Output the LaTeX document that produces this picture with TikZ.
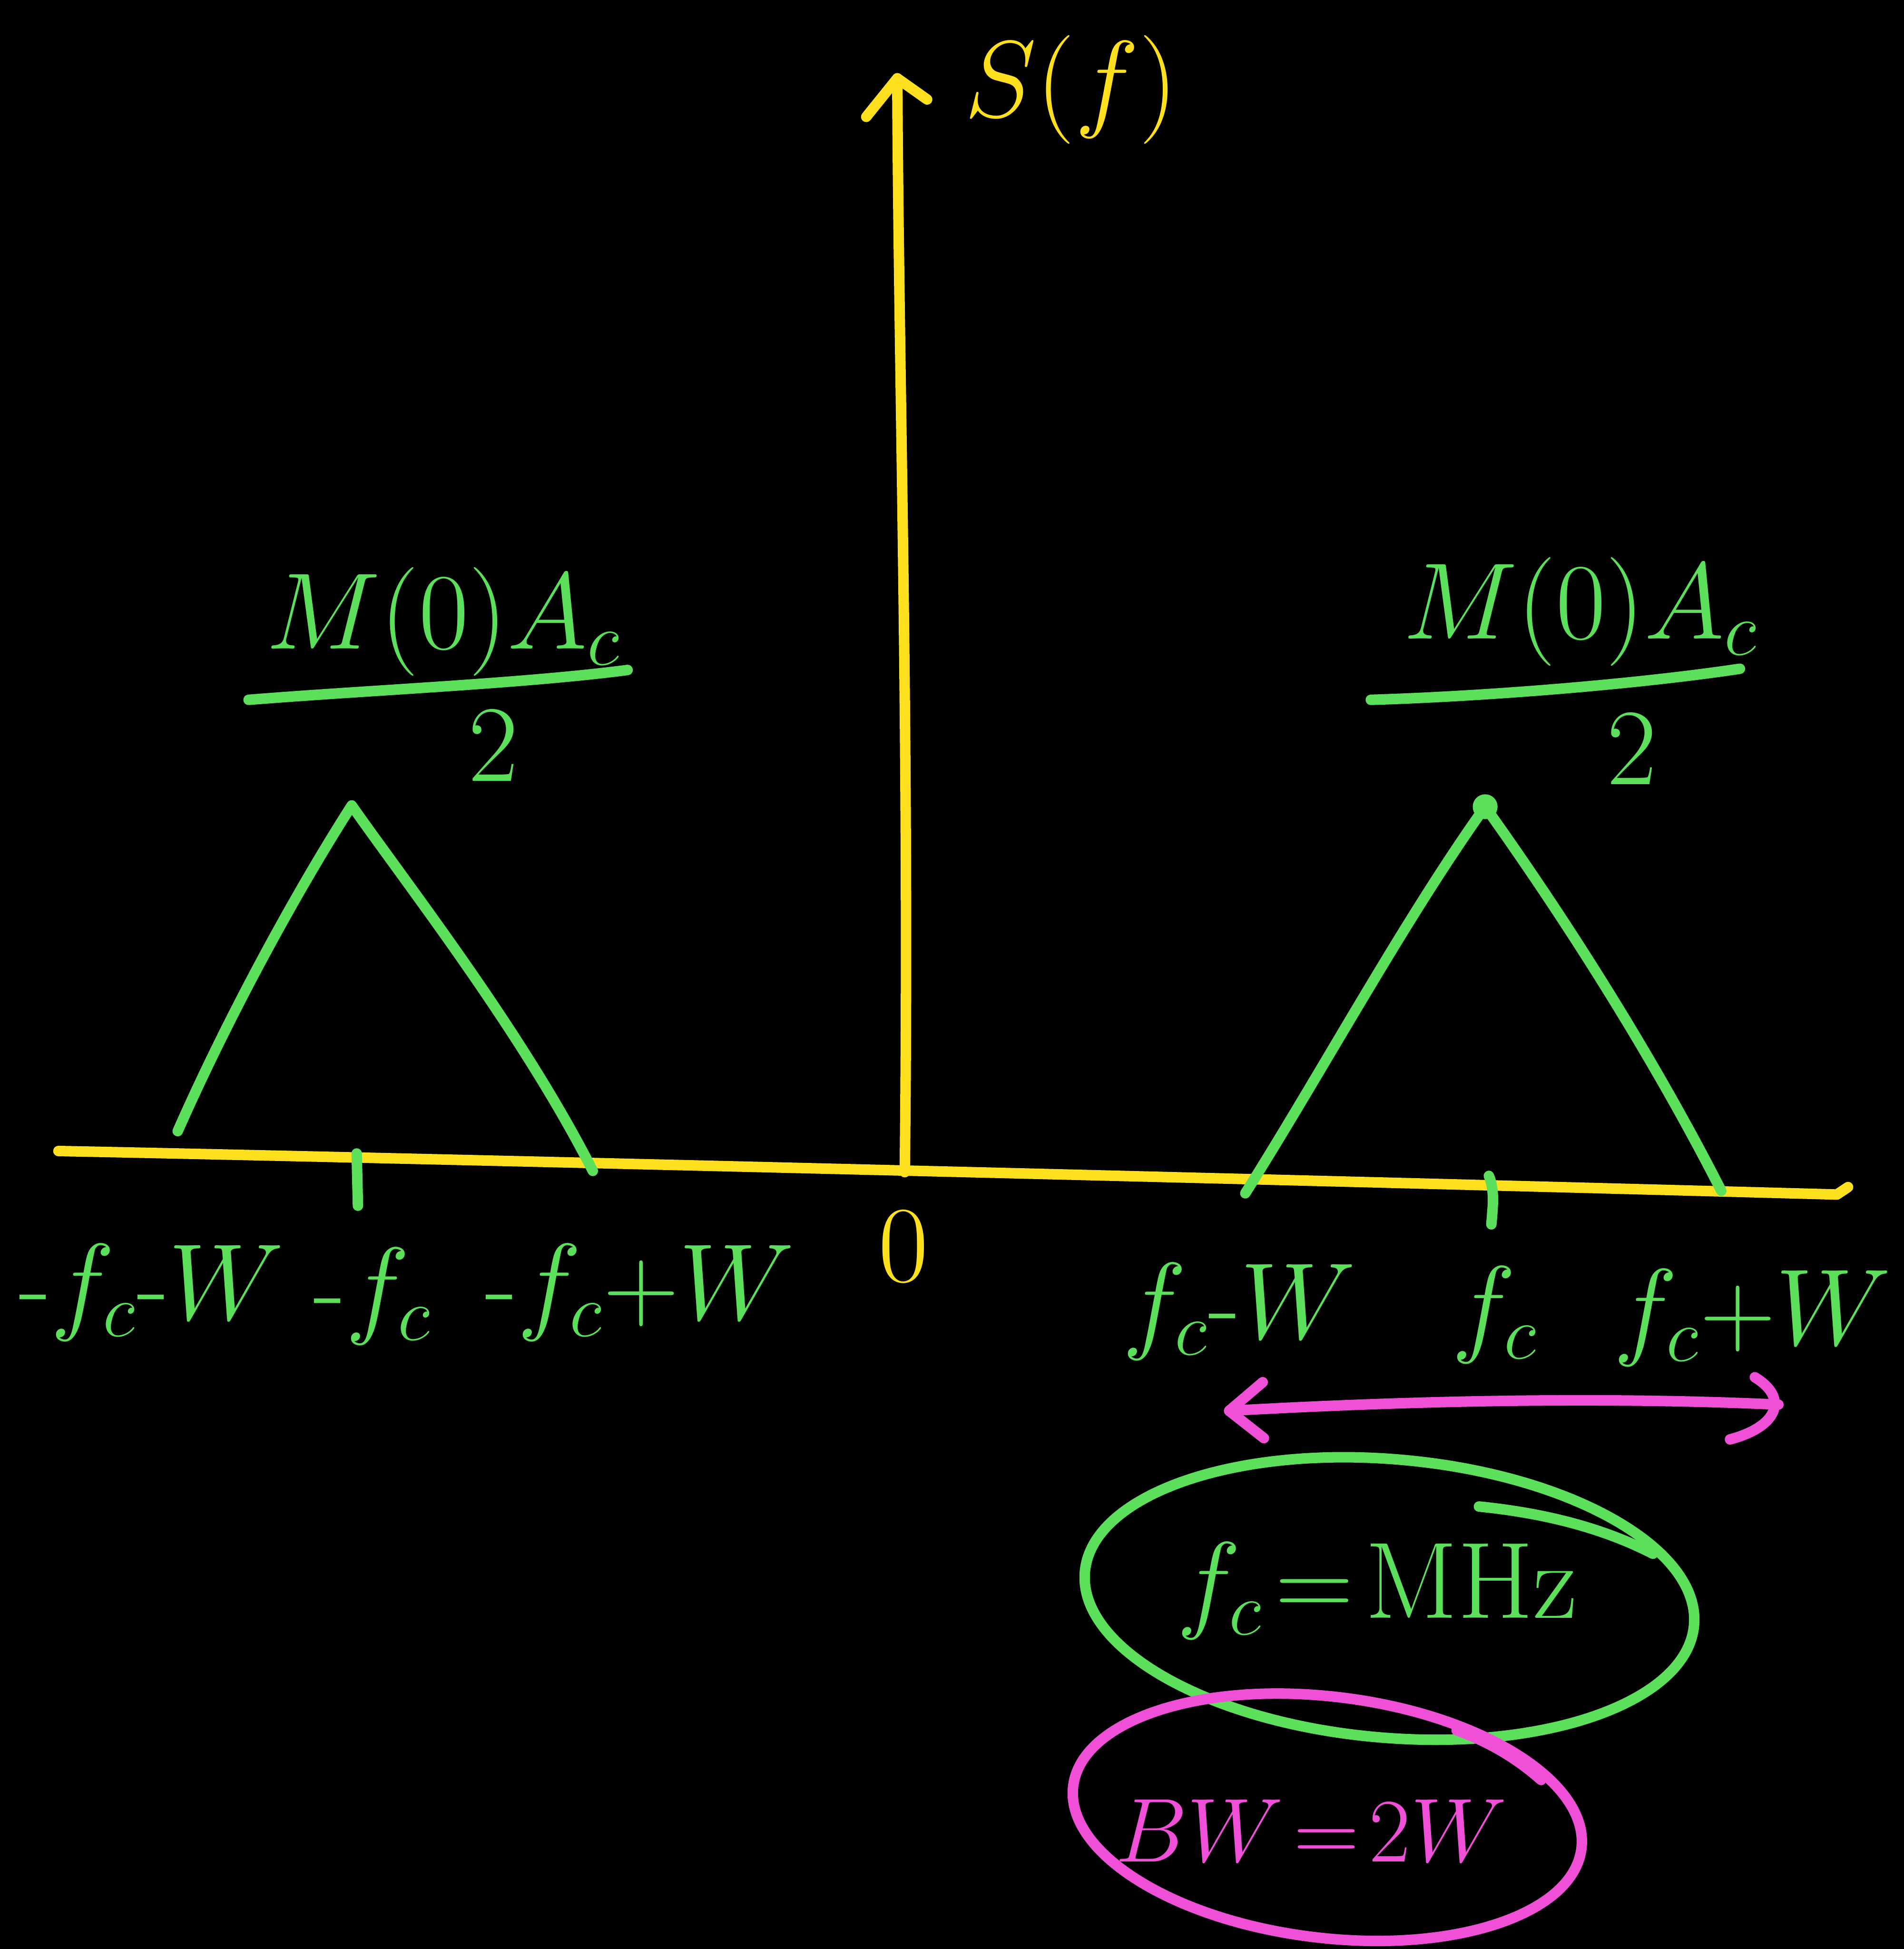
\documentclass[tikz,border=0pt]{standalone}
\usetikzlibrary{arrows.meta}
\definecolor{penY}{HTML}{FFE01E}
\definecolor{penG}{HTML}{5CE05C}
\definecolor{penM}{HTML}{F050D8}
\tikzset{
  pen/.style={line width=2.4pt, line cap=round, line join=round},
  ypen/.style={pen, draw=penY},
  gpen/.style={pen, draw=penG},
  mpen/.style={pen, draw=penM},
  glab/.style={text=penG, inner sep=0pt, font=\fontsize{24}{28}\selectfont},
  gfrac/.style={text=penG, inner sep=0pt, font=\fontsize{26}{30}\selectfont},
  gbig/.style={text=penG, inner sep=0pt, font=\fontsize{27}{31}\selectfont},
  mbig/.style={text=penM, inner sep=0pt, font=\fontsize{22}{26}\selectfont},
  ylab/.style={text=penY, inner sep=0pt, font=\fontsize{30}{34}\selectfont},
}
\begin{document}
\begin{tikzpicture}[x=0.01cm,y=-0.01cm]
\fill[black] (0,0) rectangle (1532,1568);
\useasboundingbox (0,0) rectangle (1532,1568);

% axes
\coordinate (hL) at (47,926);
\coordinate (hR) at (1487,955);
\coordinate (orig) at (728,943);
\coordinate (vTop) at (722,63);
\draw[ypen] (hL) .. controls (300,931) and (1000,948) .. (1478,961) -- (hR);
\draw[ypen] (orig) .. controls (732,600) and (723,300) .. (vTop);
\draw[ypen] (697,94) -- (vTop) -- (746,80);
\node[ylab] (Sf) at (862,72) {$S(f)$};
\node[text=penY, inner sep=0pt, font=\fontsize{24}{28}\selectfont] (zero) at (727,1003) {$0$};

% left triangle
\coordinate (l1) at (143,910);
\coordinate (lp) at (283,648);
\coordinate (l2) at (477,942);
\draw[gpen] (l1) .. controls (185,815) and (240,715) .. (lp)
            .. controls (330,715) and (420,830) .. (l2);
\draw[gpen] (287,928) -- (288,970);

% right triangle
\coordinate (r1) at (1002,960);
\coordinate (rp) at (1195,649);
\coordinate (r2) at (1385,958);
\draw[gpen] (r1) .. controls (1065,860) and (1130,740) .. (rp)
            .. controls (1260,740) and (1330,850) .. (r2);
\fill[penG] (rp) circle (10);
\draw[gpen] (1198,946) .. controls (1203,958) and (1201,972) .. (1200,985);

% left fraction
\node[gfrac] (numL) at (357,500) {$M(0)A_c$};
\draw[gpen] (200,563) .. controls (300,555) and (420,550) .. (505,539);
\node[gfrac] (denL) at (397,600) {$2$};

% right fraction
\node[gfrac] (numR) at (1272,492) {$M(0)A_c$};
\draw[gpen] (1103,563) .. controls (1200,560) and (1320,550) .. (1400,538);
\node[gfrac] (denR) at (1313,603) {$2$};

% tick labels
\node[glab] (t1) at (122,1040) {$\mbox{-}f_c\mbox{-}W$};
\node[glab] (t2) at (300,1043) {$\mbox{-}f_c$};
\node[glab] (t3) at (515,1040) {$\mbox{-}f_c\mbox{+}W$};
\node[glab] (t4) at (997,1055) {$f_c\mbox{-}W$};
\node[glab] (t5) at (1203,1058) {$f_c$};
\node[glab] (t6) at (1410,1060) {$f_c\mbox{+}W$};

% bandwidth arrow
\coordinate (aL) at (989,1135);
\coordinate (aR) at (1431,1130);
\draw[mpen] (aL) .. controls (1150,1126) and (1300,1124) .. (aR);
\draw[mpen] (1016,1112) -- (aL) -- (1017,1157);
\draw[mpen] (1412,1108) .. controls (1440,1125) and (1430,1148) .. (1392,1158);

% green ellipse
\node[gbig] (fc) at (1108,1280) {$f_c\!=\!\mathrm{MHz}$};
\draw[gpen, rotate around={-5:(1118,1286)}] (1118,1286) ellipse [x radius=246, y radius=112];
\draw[gpen] (1190,1212) .. controls (1250,1218) and (1295,1232) .. (1330,1250);

% magenta ellipse
\node[mbig] (bw) at (1055,1473) {$BW\!=\!2W$};
\draw[mpen, rotate around={-7:(1068,1462)}] (1068,1462) ellipse [x radius=206, y radius=97];
\draw[mpen] (1172,1392) .. controls (1200,1402) and (1222,1416) .. (1240,1432);
\end{tikzpicture}
\end{document}
